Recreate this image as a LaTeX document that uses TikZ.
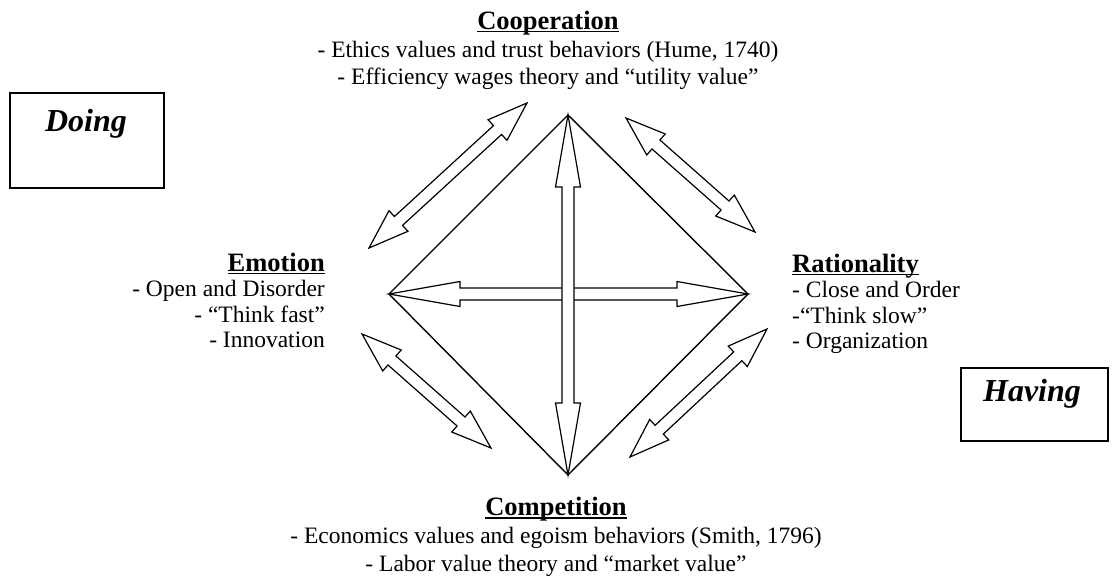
\documentclass[tikz,border=0pt]{standalone}
\usepackage{fontspec}
\setmainfont{Liberation Serif}
\usetikzlibrary{calc}
% double-headed block arrow: #1 start, #2 end, #3 shaft half width, #4 head half width, #5 head length
\newcommand\DArrow[5]{%
  \draw[dblarrow] (#1)
   -- ($(#1)!#5!(#2)!#4!90:(#2)$)
   -- ($(#1)!#5!(#2)!#3!90:(#2)$)
   -- ($(#2)!#5!(#1)!#3!-90:(#1)$)
   -- ($(#2)!#5!(#1)!#4!-90:(#1)$)
   -- (#2)
   -- ($(#2)!#5!(#1)!#4!90:(#1)$)
   -- ($(#2)!#5!(#1)!#3!90:(#1)$)
   -- ($(#1)!#5!(#2)!#3!-90:(#2)$)
   -- ($(#1)!#5!(#2)!#4!-90:(#2)$)
   -- cycle;}
% Word-like heading: bold, larger, underlined close to the baseline
\newcommand\Head[1]{{\fontsize{26.5}{25.5}\selectfont\bfseries
  \setbox0=\hbox{#1}\rlap{\rule[-3.2pt]{\wd0}{1.3pt}}\box0}}
\begin{document}
\begin{tikzpicture}[x=1pt,y=-1pt,
  txt/.style={font=\fontsize{23.5}{25.5}\selectfont, inner sep=0pt},
  wide/.style={font=\fontsize{23.5}{27.8}\selectfont, inner sep=0pt},
  frame/.style={draw, line width=1.8pt, inner sep=0pt},
  big/.style={font=\fontsize{32}{36}\selectfont\bfseries\itshape, inner sep=0pt},
  edgeline/.style={line width=1.4pt, line join=miter},
  dblarrow/.style={draw, line width=1.2pt, fill=white, line join=miter}]
\useasboundingbox (0,0) rectangle (1112,576);
\coordinate (top) at (568,115);
\coordinate (left) at (389,294);
\coordinate (right) at (748,294);
\coordinate (bot) at (568,475);
\draw[edgeline] (top) -- (right) -- (bot) -- (left) -- cycle;
\DArrow{left}{right}{6pt}{12.5pt}{71pt}
\DArrow{top}{bot}{6pt}{12.5pt}{72pt}
\coordinate (ul1) at (369,248); \coordinate (ul2) at (527,103);
\coordinate (ur1) at (626,118); \coordinate (ur2) at (755,232);
\coordinate (ll1) at (362,334); \coordinate (ll2) at (491,448);
\coordinate (lr1) at (630,457); \coordinate (lr2) at (767,329);
\DArrow{ul1}{ul2}{6pt}{14pt}{40pt}
\DArrow{ur1}{ur2}{6pt}{14pt}{40pt}
\DArrow{ll1}{ll2}{6pt}{14pt}{40pt}
\DArrow{lr1}{lr2}{6pt}{14pt}{40pt}
\node[wide, anchor=north, align=center] (coop) at (548,10.7)
  {\Head{Cooperation}\\- Ethics values and trust behaviors (Hume, 1740)\\- Efficiency wages theory and “utility value”};
\node[txt, anchor=north east, align=right] (emo) at (325,252.7)
  {\Head{Emotion}\\- Open and Disorder\\- “Think fast”\\- Innovation};
\node[txt, anchor=north west, align=left] (rat) at (792,253.7)
  {\Head{Rationality}\\- Close and Order\\-“Think slow”\\- Organization};
\node[wide, anchor=north, align=center] (comp) at (556,497)
  {\Head{Competition}\\- Economics values and egoism behaviors (Smith, 1796)\\- Labor value theory and “market value”};
\node[frame, minimum width=154pt, minimum height=95pt, anchor=north west] (doing) at (9,92) {};
\node[big, anchor=base] (doingtxt) at (86,131) {Doing};
\node[frame, minimum width=147pt, minimum height=73pt, anchor=north west] (having) at (960,367) {};
\node[big, anchor=base] (havingtxt) at (1032,401) {Having};
\end{tikzpicture}
\end{document}
